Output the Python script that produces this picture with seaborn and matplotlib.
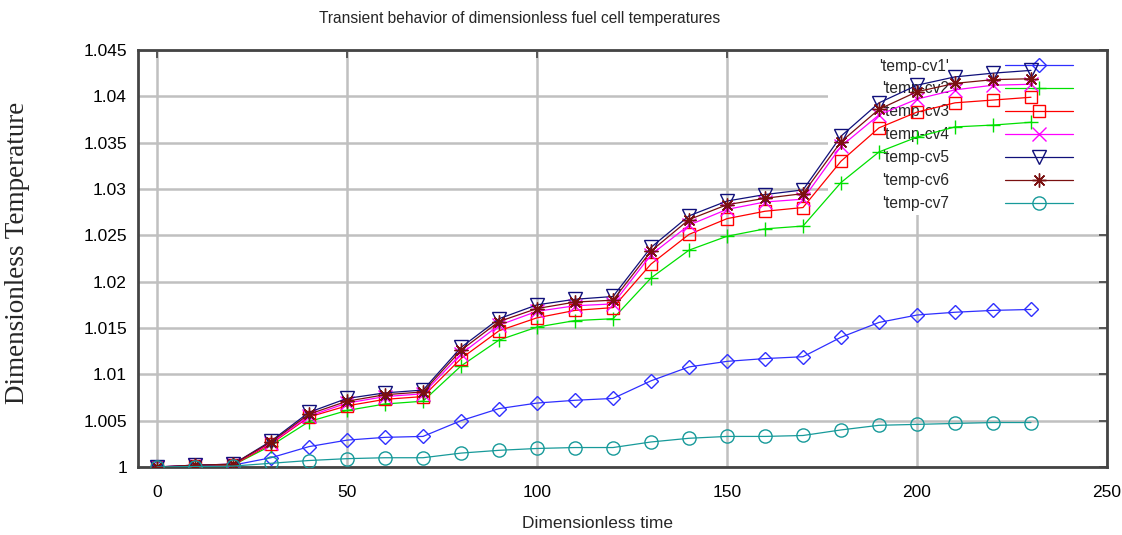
import numpy as np
import pandas as pd
import matplotlib
matplotlib.use("Agg")
import matplotlib.pyplot as plt
from matplotlib.patches import Rectangle
import seaborn as sns

# ---- data ----
t = [0, 10, 20, 30, 40, 50, 60, 70, 80, 90, 100, 110, 120, 130, 140, 150,
     160, 170, 180, 190, 200, 210, 220, 230]
cv1 = [1.0000, 1.0001, 1.0002, 1.0010, 1.0022, 1.0029, 1.0032, 1.0033, 1.0050, 1.0063,
       1.0069, 1.0072, 1.0074, 1.0093, 1.0108, 1.0114, 1.0117, 1.0119, 1.0140, 1.0156,
       1.0164, 1.0167, 1.0169, 1.0170]
cv2 = [1.0000, 1.0001, 1.0002, 1.0023, 1.0049, 1.0061, 1.0068, 1.0071, 1.0109, 1.0137,
       1.0151, 1.0158, 1.0160, 1.0204, 1.0234, 1.0249, 1.0257, 1.0260, 1.0307, 1.0340,
       1.0356, 1.0367, 1.0369, 1.0372]
cv3 = [1.0000, 1.0001, 1.0002, 1.0025, 1.0054, 1.0066, 1.0073, 1.0076, 1.0117, 1.0147,
       1.0161, 1.0169, 1.0172, 1.0219, 1.0251, 1.0268, 1.0276, 1.0280, 1.0330, 1.0366,
       1.0383, 1.0393, 1.0396, 1.0399]
cv4 = [1.0000, 1.0002, 1.0003, 1.0026, 1.0055, 1.0069, 1.0076, 1.0079, 1.0122, 1.0153,
       1.0168, 1.0174, 1.0176, 1.0229, 1.0261, 1.0278, 1.0286, 1.0289, 1.0346, 1.0380,
       1.0397, 1.0407, 1.0412, 1.0413]
cv5 = [1.0000, 1.0002, 1.0003, 1.0028, 1.0059, 1.0074, 1.0080, 1.0083, 1.0129, 1.0160,
       1.0175, 1.0181, 1.0184, 1.0237, 1.0271, 1.0287, 1.0294, 1.0299, 1.0357, 1.0393,
       1.0412, 1.0421, 1.0425, 1.0428]
cv6 = [1.0000, 1.0002, 1.0003, 1.0027, 1.0057, 1.0071, 1.0078, 1.0081, 1.0126, 1.0157,
       1.0171, 1.0178, 1.0180, 1.0233, 1.0267, 1.0283, 1.0290, 1.0295, 1.0351, 1.0386,
       1.0405, 1.0414, 1.0418, 1.0419]
cv7 = [1.0000, 1.00005, 1.0001, 1.0004, 1.0007, 1.0009, 1.0010, 1.0010, 1.0015, 1.0018,
       1.0020, 1.0021, 1.0021, 1.0027, 1.0031, 1.0033, 1.0033, 1.0034, 1.0040, 1.0045,
       1.0046, 1.0047, 1.0048, 1.0048]

labels = ["'temp-cv1'", "'temp-cv2", "'temp-cv3", "'temp-cv4", "'temp-cv5", "'temp-cv6", "'temp-cv7"]
series = [cv1, cv2, cv3, cv4, cv5, cv6, cv7]
xticks = [0, 50, 100, 150, 200, 250]
yticks = [1.0, 1.005, 1.01, 1.015, 1.02, 1.025, 1.03, 1.035, 1.04, 1.045]
ytick_labels = ["1", "1.005", "1.01", "1.015", "1.02", "1.025", "1.03", "1.035", "1.04", "1.045"]

title = "Transient behavior of dimensionless fuel cell temperatures"
xlabel = "Dimensionless time"
ylabel = "Dimensionless Temperature"

# ---- styles ----
colors = ["#2f2fff", "#00e000", "#ff0000", "#ff00ff", "#10107a", "#7a1010", "#179a9a"]
markers = ["D", "+", "s", "x", "v", (8, 2, 0), "o"]
msizes = [7.5, 10, 9, 10, 10.5, 10, 9.5]

sns.set_theme(style="white")
sansfam = ["Liberation Sans Narrow", "Liberation Sans", "DejaVu Sans"]
plt.rcParams["font.family"] = sansfam

fig = plt.figure(figsize=(11.22, 5.35), dpi=100)
ax = fig.add_axes([138 / 1122, 68 / 535, 969 / 1122, 417 / 535])

df = pd.DataFrame({"t": t})
for lab, vals, c, m, ms in zip(labels, series, colors, markers, msizes):
    df[lab] = vals
    sns.lineplot(data=df, x="t", y=lab, ax=ax, color=c, marker=m, markersize=ms,
                 markerfacecolor="none", markeredgecolor=c, markeredgewidth=1.0,
                 linewidth=0.9, label=lab, zorder=3)

ax.set_xlim(-5, 250)
ax.set_ylim(1.0, 1.045)
ax.set_xticks(xticks)
ax.set_yticks(yticks)
ax.set_yticklabels(ytick_labels)
ax.tick_params(axis="both", direction="in", length=6, width=1.2, color="#444444",
               top=True, right=True, labelsize=12.5, labelcolor="black")
ax.tick_params(axis="y", pad=8)
ax.tick_params(axis="x", pad=13)
ax.grid(True, color="#c0c0c0", linewidth=1.8, zorder=0)
ax.set_axisbelow(True)
for s in ax.spines.values():
    s.set_color("#444444")
    s.set_linewidth(2)

# white box behind key hides grid
ax.add_patch(Rectangle((0.712, 0.604), 0.29, 0.40, transform=ax.transAxes,
                       facecolor="white", edgecolor="none", zorder=1))

ax.set_xlabel("")
ax.set_ylabel("")
fig.text(598 / 1122, 1 - 523 / 535, xlabel, ha="center", va="center", fontsize=12.5)
fig.text(18 / 1122, 1 - 253 / 535, ylabel, ha="center", va="center", rotation=90,
         fontsize=19.5, family=["Liberation Serif", "DejaVu Serif"])
fig.text(520 / 1122, 1 - 18 / 535, title, ha="center", va="center", fontsize=11.2)

leg = ax.legend(loc="upper right", bbox_to_anchor=(0.9735, 1.0), frameon=False,
                markerfirst=False, handlelength=4.35, labelspacing=0.51,
                fontsize=11.2, borderpad=0.05, handletextpad=3.6)
leg.set_zorder(2)

fig.savefig("out.png", dpi=100)
